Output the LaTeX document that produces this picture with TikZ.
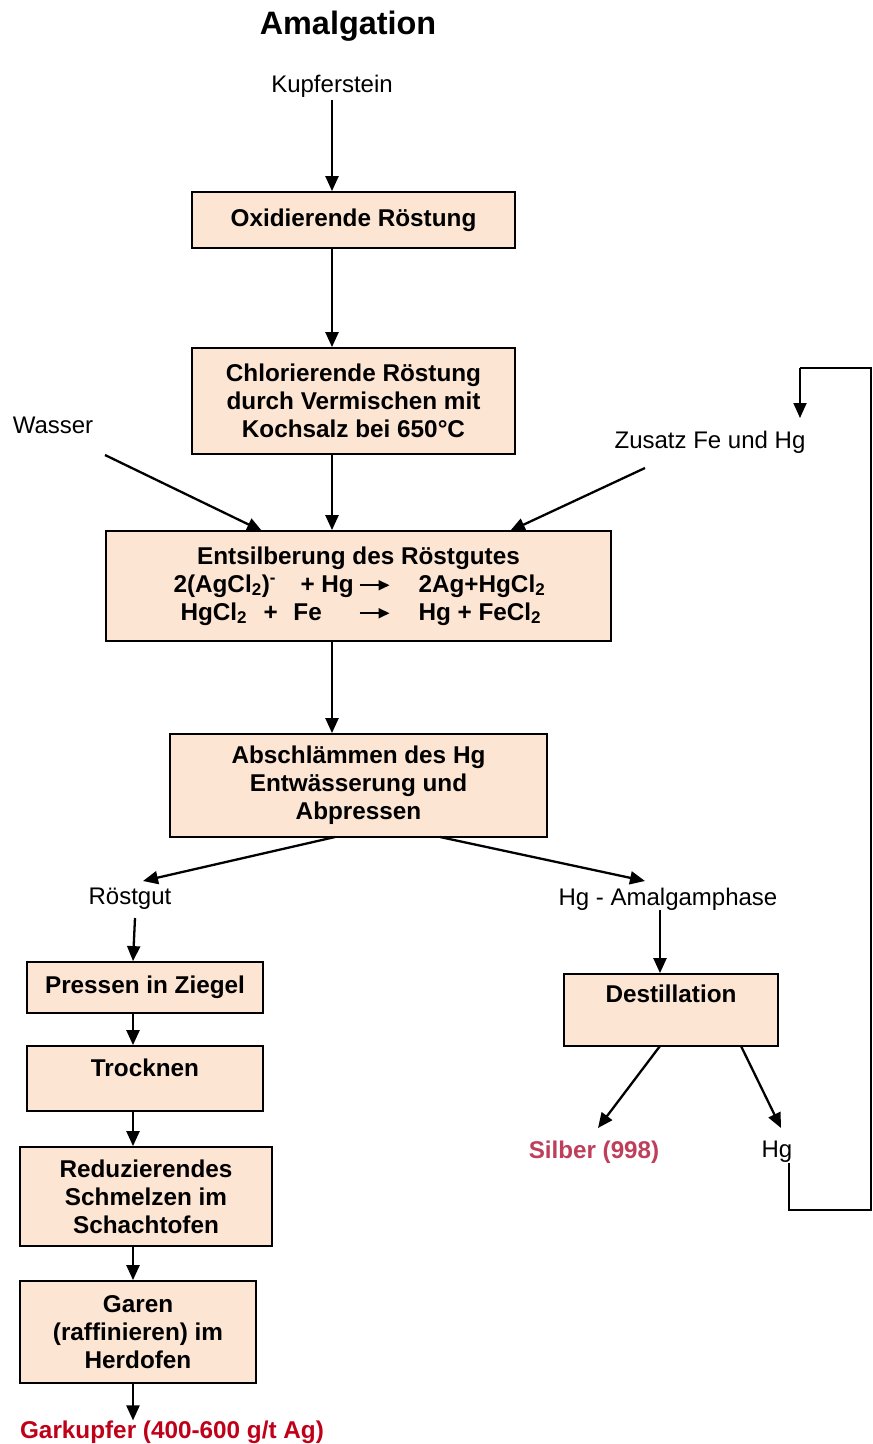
\documentclass[tikz,border=0pt]{standalone}
\usepackage{fontspec}
\setmainfont{Liberation Sans}
\usetikzlibrary{arrows.meta}
\definecolor{boxfill}{RGB}{252,229,210}
\definecolor{silber}{RGB}{190,62,92}
\definecolor{gark}{RGB}{192,0,24}
\newcommand\myrarr{\tikz[baseline={(0pt,-7pt)}]\draw[line width=2pt,-{Triangle[length=11pt,width=10pt]}] (0pt,0pt) coordinate (ra0) -- (30pt,0pt) coordinate (ra1);}
\tikzset{
  box/.style={draw=black, line width=1.8pt, fill=boxfill, align=center, inner sep=0pt,
    font=\fontsize{24.3}{28}\selectfont\bfseries},
  lbl/.style={inner sep=0pt, align=center, font=\fontsize{24}{28}\selectfont},
  arr/.style={line width=2.3pt, -{Triangle[length=15pt,width=13pt]}},
  ln/.style={line width=1.8pt},
}
\begin{document}
\begin{tikzpicture}[x=1pt,y=-1pt]
\useasboundingbox (0,0) rectangle (873,1444);
% title and labels
\node[inner sep=0pt, font=\fontsize{32.4}{36}\selectfont\bfseries] (title) at (348,26) {Amalgation};
\node[lbl] (kupfer) at (332,86) {Kupferstein};
\node[lbl] (wasser) at (53,425) {Wasser};
\node[lbl] (zusatz) at (710,442) {Zusatz Fe und Hg};
\node[lbl] (roestgut) at (130,899) {Röstgut};
\node[lbl] (amalg) at (668,899) {Hg - Amalgamphase};
\node[lbl, font=\fontsize{24.2}{28}\selectfont\bfseries, text=silber] (silber) at (594,1152) {Silber (998)};
\node[lbl] (hg) at (777,1152) {Hg};
\node[lbl, font=\fontsize{24.3}{28}\selectfont\bfseries, text=gark] (gark) at (172,1432) {Garkupfer (400-600 g/t Ag)};
% boxes
\node[box, minimum width=323pt, minimum height=56pt] (b1) at (353.5,220) {Oxidierende Röstung};
\node[box, minimum width=323pt, minimum height=106pt] (b2) at (353.5,401) {Chlorierende Röstung\\durch Vermischen mit\\Kochsalz bei 650°C};
\node[box, minimum width=505pt, minimum height=110pt] (b3) at (358.5,586) {Entsilberung des Röstgutes\\
  \makebox[370pt][l]{\rlap{2(AgCl\textsubscript{2})\textsuperscript{-}}\hspace{127pt}\rlap{+ Hg}\hspace{58pt}\rlap{\myrarr}\hspace{60pt}2Ag+HgCl\textsubscript{2}}\\
  \makebox[370pt][l]{\hspace{7pt}\rlap{HgCl\textsubscript{2}}\hspace{83pt}\rlap{+}\hspace{30pt}\rlap{Fe}\hspace{65pt}\rlap{\myrarr}\hspace{60pt}Hg + FeCl\textsubscript{2}}};
\node[box, minimum width=377pt, minimum height=103pt] (b4) at (358.5,785.5) {Abschlämmen des Hg\\Entwässerung und\\Abpressen};
\node[box, minimum width=236pt, minimum height=51pt] (b5) at (145,987.5) {Pressen in Ziegel};
\node[box, minimum width=236pt, minimum height=65pt, text height=17pt, text depth=21pt] (b6) at (145,1078.5) {Trocknen};
\node[box, minimum width=252pt, minimum height=99pt] (b7) at (146,1196.5) {Reduzierendes\\Schmelzen im\\Schachtofen};
\node[box, minimum width=236pt, minimum height=102pt] (b8) at (138,1332) {Garen\\(raffinieren) im\\Herdofen};
\node[box, minimum width=214pt, minimum height=72pt, text height=17pt, text depth=32pt] (b9) at (671,1010) {Destillation};
% coordinates for slanted connectors
\coordinate (w0) at (105,455);
\coordinate (w1) at (262,531);
\coordinate (z0) at (645,468);
\coordinate (z1) at (510,531);
\coordinate (r0) at (335,837);
\coordinate (r1) at (143,881);
\coordinate (a0) at (440,837);
\coordinate (a1) at (645,881);
\coordinate (d0) at (660,1046);
\coordinate (d1) at (598,1128);
\coordinate (e0) at (741,1046);
\coordinate (e1) at (781,1128);
\coordinate (h1) at (789,1210);
\coordinate (h2) at (871,1210);
\coordinate (h3) at (871,368);
\coordinate (h4) at (800,368);
\coordinate (h5) at (800,418);
\coordinate (rg) at (135,918);
% connectors
\draw[arr] (kupfer.south |- 0,100) -- (kupfer.south |- b1.north);
\draw[arr] (b1.south -| 332,0) -- (b2.north -| 332,0);
\draw[arr] (b2.south -| 332,0) -- (b3.north -| 332,0);
\draw[arr] (w0) -- (w1);
\draw[arr] (z0) -- (z1);
\draw[arr] (b3.south -| 332,0) -- (b4.north -| 332,0);
\draw[arr] (r0) -- (r1);
\draw[arr] (a0) -- (a1);
\draw[arr] (rg) -- (b5.north -| 133,0);
\draw[arr] (b5.south -| 133,0) -- (b6.north -| 133,0);
\draw[arr] (b6.south -| 133,0) -- (b7.north -| 133,0);
\draw[arr] (b7.south -| 133,0) -- (b8.north -| 133,0);
\draw[arr] (b8.south -| 133,0) -- (gark.north -| 133,0);
\draw[arr] (amalg.south -| 660,0) -- (b9.north -| 660,0);
\draw[arr] (d0) -- (d1);
\draw[arr] (e0) -- (e1);
\draw[ln] (hg.south -| 789,0) -- (h1) -- (h2) -- (h3) -- (h4);
\draw[arr, line width=1.8pt] (h4) -- (h5);
\end{tikzpicture}
\end{document}
